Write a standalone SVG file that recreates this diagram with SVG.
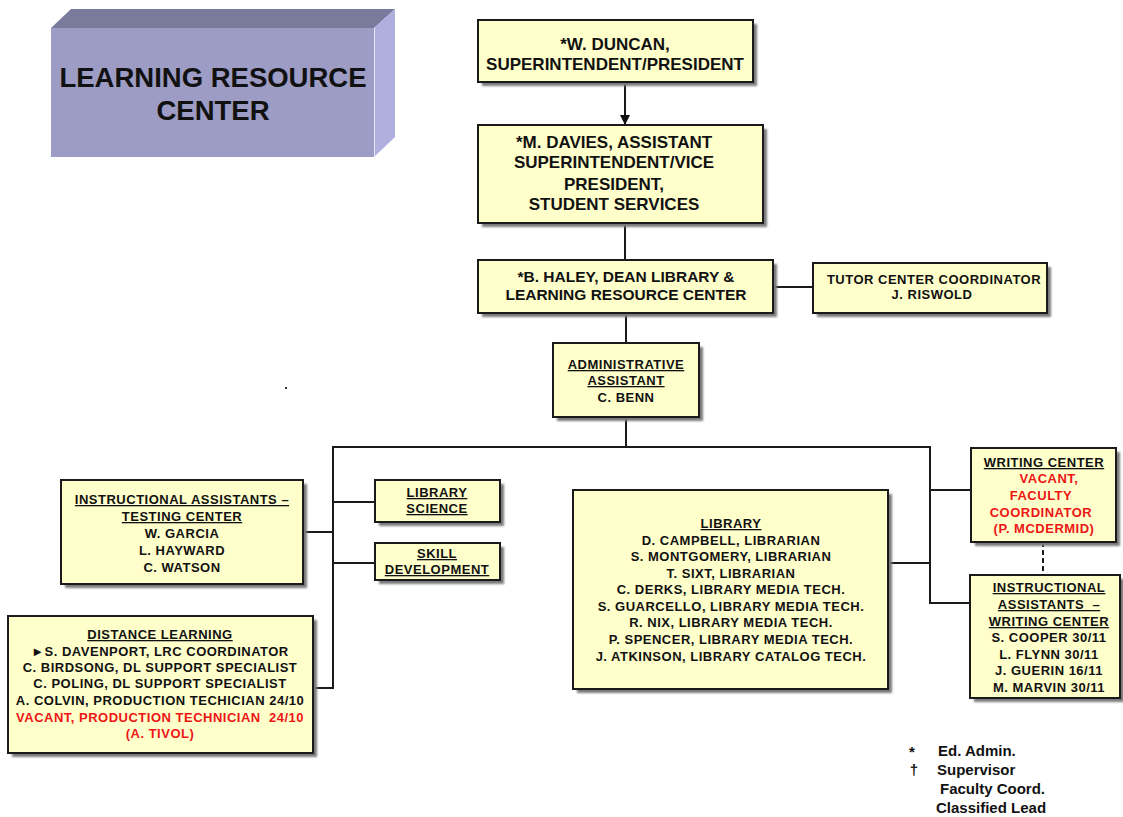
<svg xmlns="http://www.w3.org/2000/svg" width="1123" height="817" viewBox="0 0 1123 817">
  <defs>
    <filter id="shadow" x="-10%" y="-10%" width="130%" height="130%">
      <feGaussianBlur stdDeviation="1"/>
    </filter>
    <marker id="arrow" markerWidth="10" markerHeight="10" refX="9" refY="5" orient="auto" markerUnits="userSpaceOnUse" viewBox="0 0 10 10">
      <path d="M0,0 L10,5 L0,10 Z" fill="#111"/>
    </marker>
  </defs>
  <style>
    .box { fill: #ffffcc; stroke: #1a1a1a; stroke-width: 2; }
    .shd { fill: #7a7a7a; filter: url(#shadow); }
    .ln { stroke: #1a1a1a; stroke-width: 2; fill: none; }
    .big { font-family: "Liberation Sans", Arial, sans-serif; font-weight: bold; font-size: 17px; fill: #111; text-anchor: middle; }
    .mid { font-family: "Liberation Sans", Arial, sans-serif; font-weight: bold; font-size: 15.5px; fill: #111; text-anchor: middle; }
    .sm { font-family: "Liberation Sans", Arial, sans-serif; font-weight: bold; font-size: 13px; letter-spacing: 0.5px; fill: #111; text-anchor: middle; }
    .u { text-decoration: underline; }
    .red { fill: #ee1515; }
    .leg { font-family: "Liberation Sans", Arial, sans-serif; font-weight: bold; font-size: 15px; fill: #111; }
    .ttl { font-family: "Liberation Sans", Arial, sans-serif; font-weight: bold; font-size: 27.5px; fill: #111; text-anchor: middle; }
  </style>

  <rect width="1123" height="817" fill="#ffffff"/>

  <!-- title block drawn as a 3D box -->
  <g id="title">
    <polygon points="51,28 71,9 395,9 374,28" fill="#7a7a9c"/>
    <polygon points="374,28 395,9 395,137 374,157" fill="#b0b0de"/>
    <rect x="51" y="28" width="323" height="129" fill="#9c9cc4"/>
    <line x1="374.5" y1="28" x2="374.5" y2="157" stroke="#e6e6f4" stroke-width="1"/>
    <text class="ttl" x="213" y="87">LEARNING RESOURCE</text>
    <text class="ttl" x="213" y="120">CENTER</text>
  </g>

  <!-- connectors -->
  <g id="connectors">
    <line class="ln" x1="625" y1="82" x2="625" y2="124" marker-end="url(#arrow)"/>
    <line class="ln" x1="625" y1="223" x2="625" y2="260"/>
    <line class="ln" x1="773" y1="287" x2="813" y2="287"/>
    <line class="ln" x1="626" y1="313" x2="626" y2="343"/>
    <line class="ln" x1="626" y1="417" x2="626" y2="447"/>
    <line class="ln" x1="332" y1="447" x2="931" y2="447"/>
    <line class="ln" x1="333" y1="446" x2="333" y2="689"/>
    <line class="ln" x1="303" y1="532" x2="333" y2="532"/>
    <line class="ln" x1="333" y1="502" x2="375" y2="502"/>
    <line class="ln" x1="333" y1="563" x2="375" y2="563"/>
    <line class="ln" x1="313" y1="688" x2="333" y2="688"/>
    <line class="ln" x1="930" y1="446" x2="930" y2="604"/>
    <line class="ln" x1="930" y1="490" x2="971" y2="490"/>
    <line class="ln" x1="888" y1="563" x2="930" y2="563"/>
    <line class="ln" x1="930" y1="603" x2="970" y2="603"/>
    <line class="ln" x1="1043" y1="542" x2="1043" y2="575" stroke-dasharray="5,3"/>
  </g>

  <g id="duncan">
    <rect class="shd" x="482" y="24" width="275" height="62"/>
    <rect class="box" x="478" y="20" width="275" height="62"/>
    <text class="big" x="615" y="50">*W. DUNCAN,</text>
    <text class="big" x="615" y="70">SUPERINTENDENT/PRESIDENT</text>
  </g>

  <g id="davies">
    <rect class="shd" x="482" y="129" width="285" height="98"/>
    <rect class="box" x="478" y="125" width="285" height="98"/>
    <text class="big" x="614" y="148">*M. DAVIES, ASSISTANT</text>
    <text class="big" x="614" y="168">SUPERINTENDENT/VICE</text>
    <text class="big" x="614" y="190">PRESIDENT,</text>
    <text class="big" x="614" y="210">STUDENT SERVICES</text>
  </g>

  <g id="haley">
    <rect class="shd" x="482" y="264" width="295" height="53"/>
    <rect class="box" x="478" y="260" width="295" height="53"/>
    <text class="mid" x="626" y="282">*B. HALEY, DEAN LIBRARY &amp;</text>
    <text class="mid" x="626" y="300">LEARNING RESOURCE CENTER</text>
  </g>

  <g id="tutor">
    <rect class="shd" x="817" y="267" width="234" height="50"/>
    <rect class="box" x="813" y="263" width="234" height="50"/>
    <text class="sm" x="934" y="284">TUTOR CENTER COORDINATOR</text>
    <text class="sm" x="932" y="299">J. RISWOLD</text>
  </g>

  <g id="admin">
    <rect class="shd" x="557" y="347" width="146" height="74"/>
    <rect class="box" x="553" y="343" width="146" height="74"/>
    <text class="sm u" x="626" y="369">ADMINISTRATIVE</text>
    <text class="sm u" x="626" y="385">ASSISTANT</text>
    <text class="sm" x="626" y="402">C. BENN</text>
  </g>

  <!-- stray dot -->
  <rect x="285" y="387" width="2" height="2" fill="#333"/>

  <g id="testing">
    <rect class="shd" x="65" y="484" width="242" height="104"/>
    <rect class="box" x="61" y="480" width="242" height="104"/>
    <text class="sm u" x="182" y="504">INSTRUCTIONAL ASSISTANTS –</text>
    <text class="sm u" x="182" y="521">TESTING CENTER</text>
    <text class="sm" x="182" y="538">W. GARCIA</text>
    <text class="sm" x="182" y="555">L. HAYWARD</text>
    <text class="sm" x="182" y="572">C. WATSON</text>
  </g>

  <g id="library-science">
    <rect class="shd" x="379" y="484" width="125" height="42"/>
    <rect class="box" x="375" y="480" width="125" height="42"/>
    <text class="sm u" x="437" y="497">LIBRARY</text>
    <text class="sm u" x="437" y="513">SCIENCE</text>
  </g>

  <g id="skill-development">
    <rect class="shd" x="379" y="547" width="125" height="37"/>
    <rect class="box" x="375" y="543" width="125" height="37"/>
    <text class="sm u" x="437" y="558">SKILL</text>
    <text class="sm u" x="437" y="574">DEVELOPMENT</text>
  </g>

  <g id="distance-learning">
    <rect class="shd" x="12" y="620" width="305" height="137"/>
    <rect class="box" x="8" y="616" width="305" height="137"/>
    <text class="sm u" x="160" y="639">DISTANCE LEARNING</text>
    <text class="sm" x="160" y="656">►S. DAVENPORT, LRC COORDINATOR</text>
    <text class="sm" x="160" y="672">C. BIRDSONG, DL SUPPORT SPECIALIST</text>
    <text class="sm" x="160" y="688">C. POLING, DL SUPPORT SPECIALIST</text>
    <text class="sm" x="160" y="705">A. COLVIN, PRODUCTION TECHICIAN 24/10</text>
    <text class="sm red" x="160" y="722" xml:space="preserve">VACANT, PRODUCTION TECHNICIAN  24/10</text>
    <text class="sm red" x="160" y="738">(A. TIVOL)</text>
  </g>

  <g id="library">
    <rect class="shd" x="577" y="494" width="315" height="199"/>
    <rect class="box" x="573" y="490" width="315" height="199"/>
    <text class="sm u" x="731" y="528">LIBRARY</text>
    <text class="sm" x="731" y="545">D. CAMPBELL, LIBRARIAN</text>
    <text class="sm" x="731" y="561">S. MONTGOMERY, LIBRARIAN</text>
    <text class="sm" x="731" y="578">T. SIXT, LIBRARIAN</text>
    <text class="sm" x="731" y="594">C. DERKS, LIBRARY MEDIA TECH.</text>
    <text class="sm" x="731" y="611">S. GUARCELLO, LIBRARY MEDIA TECH.</text>
    <text class="sm" x="731" y="627">R. NIX, LIBRARY MEDIA TECH.</text>
    <text class="sm" x="731" y="644">P. SPENCER, LIBRARY MEDIA TECH.</text>
    <text class="sm" x="731" y="661">J. ATKINSON, LIBRARY CATALOG TECH.</text>
  </g>

  <g id="writing-center">
    <rect class="shd" x="975" y="452" width="145" height="94"/>
    <rect class="box" x="971" y="448" width="145" height="94"/>
    <text class="sm u" x="1044" y="467">WRITING CENTER</text>
    <text class="sm red" x="1049" y="483">VACANT,</text>
    <text class="sm red" x="1041" y="500">FACULTY</text>
    <text class="sm red" x="1041" y="517">COORDINATOR</text>
    <text class="sm red" x="1044" y="533">(P. MCDERMID)</text>
  </g>

  <g id="ia-writing-center">
    <rect class="shd" x="974" y="579" width="150" height="123"/>
    <rect class="box" x="970" y="575" width="150" height="123"/>
    <text class="sm u" x="1049" y="592">INSTRUCTIONAL</text>
    <text class="sm u" x="1049" y="609" xml:space="preserve">ASSISTANTS  –</text>
    <text class="sm u" x="1049" y="626">WRITING CENTER</text>
    <text class="sm" x="1049" y="642">S. COOPER 30/11</text>
    <text class="sm" x="1049" y="659">L. FLYNN 30/11</text>
    <text class="sm" x="1049" y="675">J. GUERIN 16/11</text>
    <text class="sm" x="1049" y="692">M. MARVIN 30/11</text>
  </g>

  <!-- key -->
  <g id="legend">
    <text class="leg" x="912" y="757" text-anchor="middle">*</text>
    <text class="leg" x="938" y="756">Ed. Admin.</text>
    <text class="leg" x="914" y="775" text-anchor="middle">†</text>
    <text class="leg" x="937" y="775">Supervisor</text>
    <text class="leg" x="940" y="794">Faculty Coord.</text>
    <text class="leg" x="936" y="813">Classified Lead</text>
  </g>
</svg>
